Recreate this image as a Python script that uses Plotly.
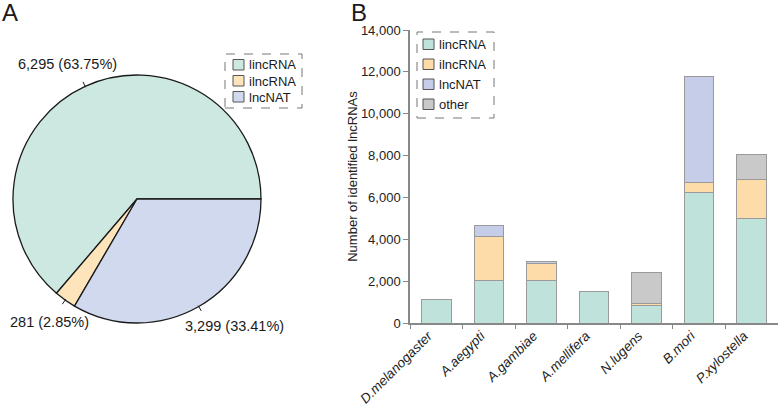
import math
import plotly.graph_objects as go

W, H = 778, 406

# Panel A: lncRNA classes (pie)
pie_labels = ["lincRNA", "ilncRNA", "lncNAT"]
pie_values = [6295, 281, 3299]
pie_colors = ["#cce8e1", "#fde4ba", "#d1d9ef"]

# Panel B: lncRNAs identified per species (stacked bars)
species = ["D.melanogaster", "A.aegypti", "A.gambiae", "A.mellifera",
           "N.lugens", "B.mori", "P.xylostella"]
lincrna = [1100, 2020, 2020, 1500, 830, 6220, 5010]
ilncrna = [None, 2090, 800, None, 90, 480, 1840]
lncnat = [None, 560, 95, None, None, 5090, None]
other = [None, None, None, None, 1500, None, 1210]
bar_names = ["lincRNA", "ilncRNA", "lncNAT", "other"]
bar_colors = ["#bfe3da", "#fddcaa", "#c5cde9", "#c9c9c9"]

FONT = "Liberation Sans, Arial, sans-serif"
DARK = "#1a1a1a"

def px(x):
    return x / W

def py(y):
    return 1 - y / H

fig = go.Figure()

# pie geometry (pixels)
cx, cy, r = 137, 199, 124
total = sum(pie_values)
# plotly's counterclockwise pies end the first slice at "rotation";
# shift so the first slice starts at 3 o'clock
rot = 90 - 360 * pie_values[0] / total
fig.add_trace(go.Pie(
    labels=pie_labels, values=pie_values, sort=False,
    direction="counterclockwise", rotation=rot,
    marker=dict(colors=pie_colors, line=dict(color=DARK, width=1.3)),
    textinfo="none", hoverinfo="label+value+percent", showlegend=False,
    domain=dict(x=[px(cx - r), px(cx + r)], y=[py(cy + r), py(cy - r)]),
))

# outside labels + small tick marks at each slice's middle angle
label_xshift = [-6, 0, 22]
label_yshift = [-2, 0, 4]
shapes = []
annotations = []
start = 0.0
for i, v in enumerate(pie_values):
    frac = v / total
    mid = math.radians((start + frac / 2) * 360)
    start += frac
    c, s = math.cos(mid), math.sin(mid)
    shapes.append(dict(type="line", xref="paper", yref="paper",
                       x0=px(cx + c * (r - 1)), y0=py(cy - s * (r - 1)),
                       x1=px(cx + c * (r + 5)), y1=py(cy - s * (r + 5)),
                       line=dict(color=DARK, width=1)))
    annotations.append(dict(
        x=px(cx + c * r * 1.22), y=py(cy - s * r * 1.22),
        xref="paper", yref="paper", xanchor="center", yanchor="middle",
        xshift=label_xshift[i], yshift=label_yshift[i],
        text=f"{v:,} ({frac * 100:.2f}%)", showarrow=False,
        font=dict(size=14.5, color=DARK, family=FONT)))

for name, vals, col in zip(bar_names, [lincrna, ilncrna, lncnat, other], bar_colors):
    fig.add_trace(go.Bar(
        x=species, y=vals, name=name, showlegend=False,
        marker=dict(color=col, line=dict(color="#9a9a9a", width=1)),
    ))


def add_legend(names, colors, box, x_sym, y_first, step):
    # dashed box, small outlined squares and labels
    shapes.append(dict(type="rect", xref="paper", yref="paper",
                       x0=px(box[0]), x1=px(box[2]), y0=py(box[3]), y1=py(box[1]),
                       line=dict(color="#777777", width=1, dash="dash")))
    for k, (n, col) in enumerate(zip(names, colors)):
        yc = y_first + k * step
        shapes.append(dict(type="rect", xref="paper", yref="paper",
                           x0=px(x_sym), x1=px(x_sym + 11),
                           y0=py(yc + 5), y1=py(yc - 5.5),
                           fillcolor=col, line=dict(color="#555555", width=1)))
        annotations.append(dict(x=px(x_sym + 14), y=py(yc), xref="paper", yref="paper",
                                xanchor="left", yanchor="middle", text=n,
                                showarrow=False,
                                font=dict(size=13, color=DARK, family=FONT)))


add_legend(pie_labels, pie_colors, (225, 54, 302, 108), 233, 65, 16)
add_legend(bar_names, bar_colors, (417, 32, 494, 118), 423, 44.5, 20)

annotations += [
    dict(x=0, y=1, xref="paper", yref="paper", xanchor="left", yanchor="top",
         yshift=3,
         text="A", showarrow=False, font=dict(size=24, color=DARK, family=FONT)),
    dict(x=px(349), y=1, xref="paper", yref="paper", xanchor="left", yanchor="top",
         yshift=3,
         text="B", showarrow=False, font=dict(size=24, color=DARK, family=FONT)),
]

fig.update_layout(
    width=W, height=H,
    margin=dict(l=0, r=0, t=0, b=0),
    paper_bgcolor="white", plot_bgcolor="white",
    font=dict(family=FONT, size=13, color="#222222"),
    barmode="stack", bargap=0.44, showlegend=False,
    shapes=shapes, annotations=annotations,
    xaxis=dict(domain=[px(410), 1], automargin=False,
               showline=True, linecolor="#888888", linewidth=1.5,
               ticks="outside", tickson="boundaries", ticklen=4, tickcolor="#888888",
               tickangle=-45, ticklabelshift=-8, ticklabelstandoff=-2,
               tickfont=dict(size=13.5, style="italic", color="#222222"),
               showgrid=False),
    yaxis=dict(domain=[py(323), py(30)], range=[0, 14000], dtick=2000,
               tickformat=",", automargin=False,
               showline=True, linecolor="#888888", linewidth=1.5,
               ticks="outside", ticklen=5, tickcolor="#888888",
               tickfont=dict(size=13, color="#222222"),
               showgrid=False, zeroline=False,
               title=dict(text="Number of identified lncRNAs", standoff=0,
                          font=dict(size=13, color="#222222"))),
)

# page body has an 8px default margin; drop it so the figure sits at 0,0
fig.write_html("out.html", config={"displayModeBar": False},
               post_script="document.body.style.margin='0';")
